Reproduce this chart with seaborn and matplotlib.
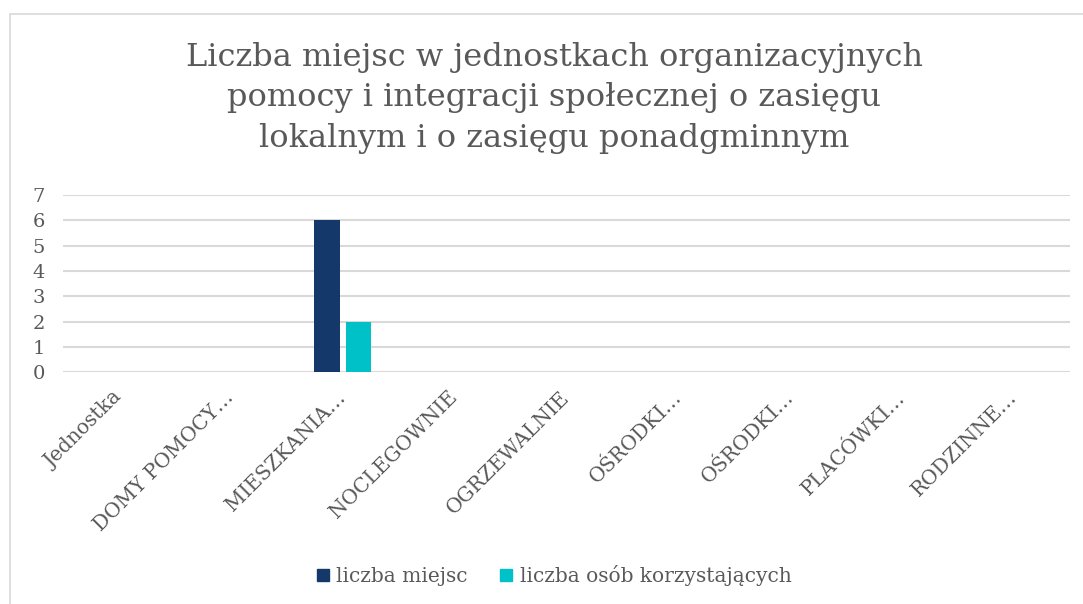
import pandas as pd
import matplotlib.pyplot as plt
import seaborn as sns
from matplotlib.lines import Line2D

# Dane
kategorie = ["Jednostka", "DOMY POMOCY…", "MIESZKANIA…", "NOCLEGOWNIE", "OGRZEWALNIE",
             "OŚRODKI…", "OŚRODKI…", "PLACÓWKI…", "RODZINNE…"]
liczba_miejsc = [0, 0, 6, 0, 0, 0, 0, 0, 0]
liczba_osob = [0, 0, 2, 0, 0, 0, 0, 0, 0]
serie = ["liczba miejsc", "liczba osób korzystających"]
kolory = ["#143869", "#00C0C8"]
yticks = list(range(0, 8))

tytul = ("Liczba miejsc w jednostkach organizacyjnych\n"
         "pomocy i integracji społecznej o zasięgu\n"
         "lokalnym i o zasięgu ponadgminnym")

# Tabela w formacie długim (pozycja zamiast nazwy, bo nazwy się powtarzają)
df = pd.DataFrame({
    "poz": list(range(len(kategorie))) * 2,
    "wartosc": liczba_miejsc + liczba_osob,
    "seria": [serie[0]] * len(kategorie) + [serie[1]] * len(kategorie),
})

sns.set_style("white")
plt.rcParams["font.family"] = ["DejaVu Serif"]
szary = "#595959"

fig = plt.figure(figsize=(10.83, 6.04), dpi=100)
ax = fig.add_axes([0.058, 0.384, 0.930, 0.293])

sns.barplot(data=df, x="poz", y="wartosc", hue="seria", palette=kolory,
            width=0.57, gap=0.19, saturation=1, linewidth=0, ax=ax, legend=False)

ax.set_ylim(0, 7)
ax.set_yticks(yticks)
ax.set_yticklabels([str(t) for t in yticks], color=szary, fontsize=14)
ax.set_xticks(range(len(kategorie)))
ax.set_xticklabels(kategorie, rotation=45, ha="right", va="center",
                   rotation_mode="anchor", color=szary, fontsize=14.5)
ax.tick_params(axis="x", length=0, pad=16)
ax.tick_params(axis="y", length=0, pad=13)
ax.set_xlabel("")
ax.set_ylabel("")
ax.grid(axis="y", color="#d9d9d9", linewidth=1.5)
ax.set_axisbelow(True)
for s in ax.spines.values():
    s.set_visible(False)

# Tytuł
fig.text(0.512, 0.93, tytul, ha="center", va="top", fontsize=23,
         color=szary, linespacing=1.38)

# Legenda
uchwyty = [Line2D([0], [0], marker="s", linestyle="", markersize=8.5,
                  markerfacecolor=k, markeredgecolor=k) for k in kolory]
fig.legend(uchwyty, serie, loc="center", bbox_to_anchor=(0.511, 0.047), ncol=2,
           frameon=False, fontsize=14.5, labelcolor=szary, handlelength=0.7,
           handletextpad=0.3, columnspacing=1.6)

# Ramka wykresu
fig.add_artist(Line2D([10 / 1083, 1], [1 - 14 / 604, 1 - 14 / 604],
                      transform=fig.transFigure, color="#d9d9d9", linewidth=1.2))
fig.add_artist(Line2D([10 / 1083, 10 / 1083], [0, 1 - 14 / 604],
                      transform=fig.transFigure, color="#d9d9d9", linewidth=1.2))

fig.savefig("out.png", dpi=100)
